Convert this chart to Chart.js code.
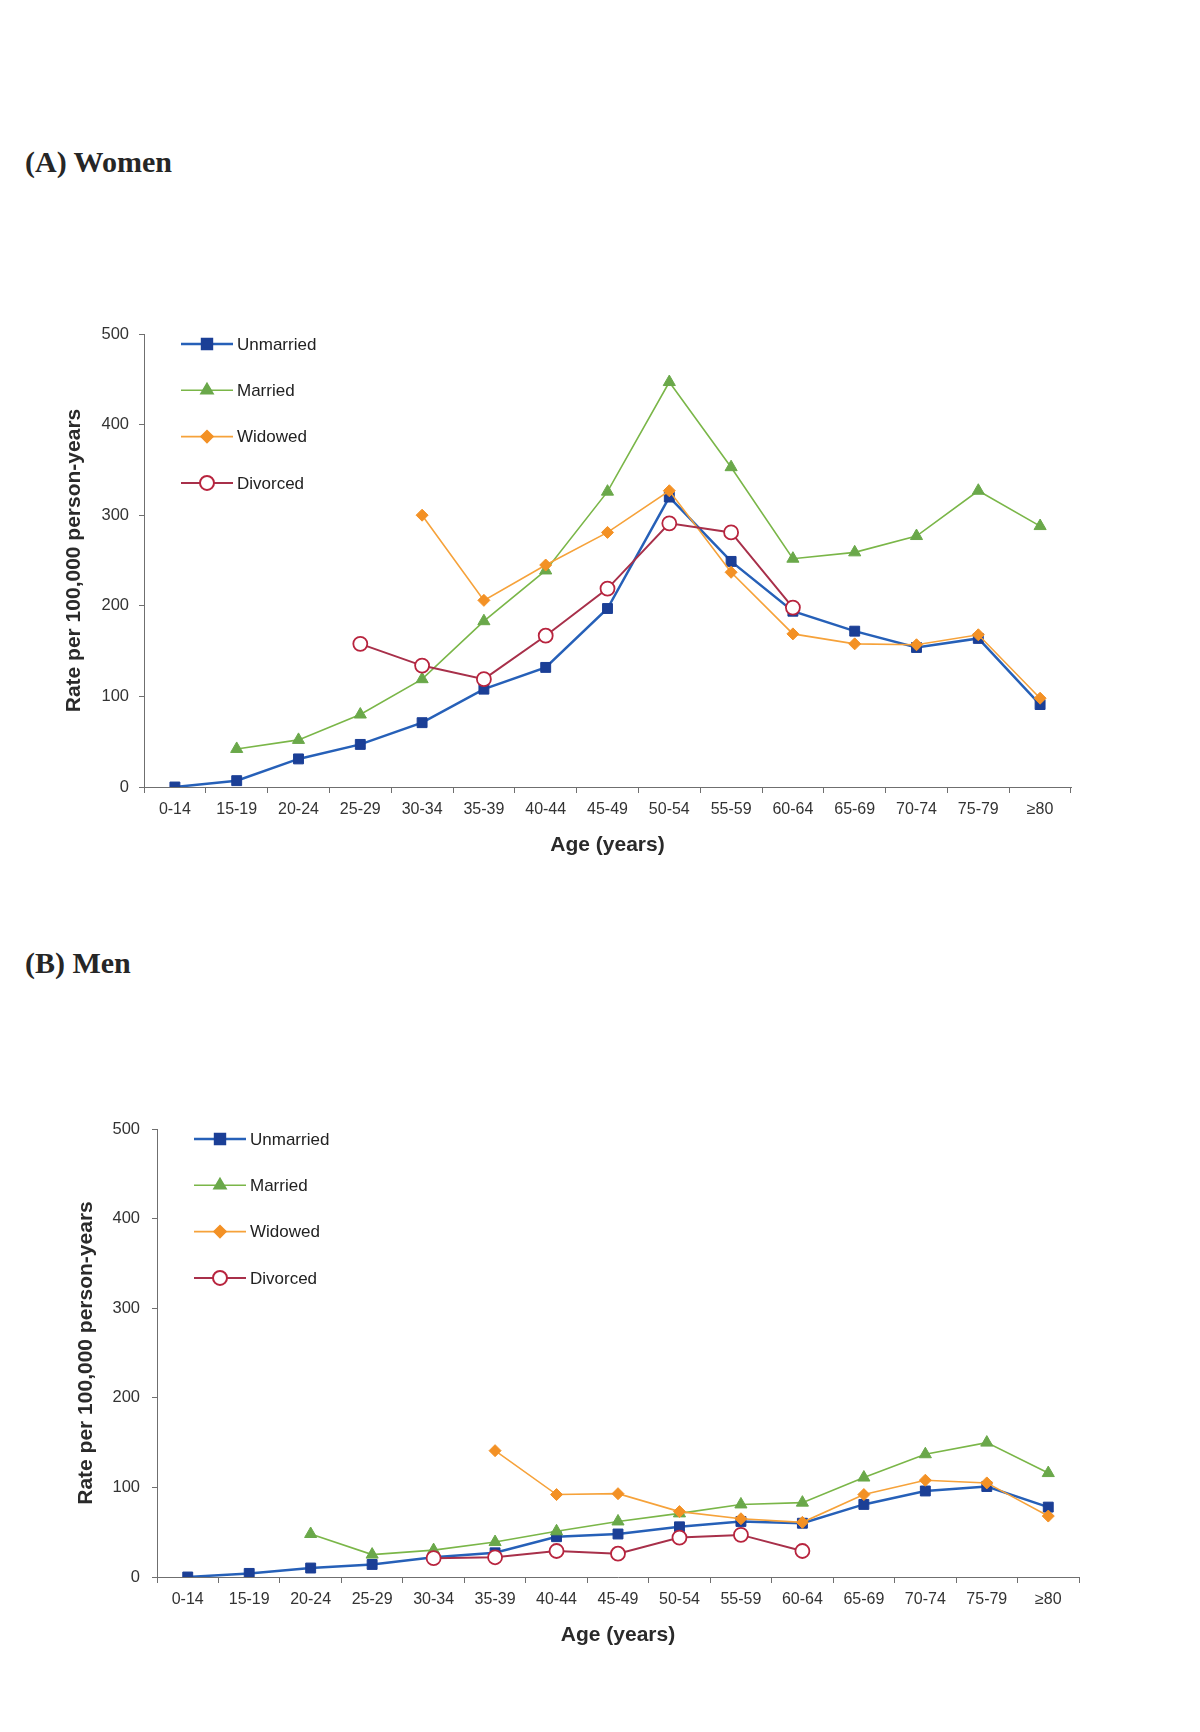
<!DOCTYPE html>
<html>
<head>
<meta charset="utf-8">
<script src="https://cdn.jsdelivr.net/npm/chart.js@4.4.1/dist/chart.umd.min.js"></script>
<style>
  html, body { margin: 0; padding: 0; background: #fff; }
  body { width: 1200px; height: 1732px; position: relative; overflow: hidden; }
  .panel-title {
    position: absolute; left: 25px; margin: 0;
    font: bold 30px "Liberation Serif", "Times New Roman", serif;
    line-height: 30px; color: #262626;
  }
  .box { position: absolute; left: 0; }
</style>
</head>
<body>
<div class="panel-title" style="top:147px">(A) Women</div>
<div class="box" style="top:300px"><canvas id="womenChart" width="1200" height="580"></canvas></div>
<div class="panel-title" style="top:948px">(B) Men</div>
<div class="box" style="top:1090px"><canvas id="menChart" width="1200" height="600"></canvas></div>

<script>
// categories and axis ticks
const ageGroups = ['0-14', '15-19', '20-24', '25-29', '30-34', '35-39', '40-44',
  '45-49', '50-54', '55-59', '60-64', '65-69', '70-74', '75-79', '\u226580'];
const yTicks = [0, 100, 200, 300, 400, 500];

// (A) Women - rate per 100,000 person-years
const womenUnmarried = [0, 7, 31, 47, 71, 108, 132, 197, 320, 249, 194, 172, 154, 164, 91];
const womenMarried   = [null, 42, 52, 80, 119, 183, 239, 326, 447, 353, 252, 259, 277, 327, 288];
const womenWidowed   = [null, null, null, null, 300, 206, 245, 281, 327, 237, 169, 158, 157, 168, 98];
const womenDivorced  = [null, null, null, 158, 134, 119, 167, 219, 291, 281, 198, null, null, null, null];

// (B) Men
const menUnmarried = [0, 4, 10, 14, 22, 27, 45, 48, 56, 62, 60, 81, 96, 101, 78];
const menMarried   = [null, null, 48, 25, 30, 39, 51, 62, 71, 81, 83, 111, 137, 150, 116];
const menWidowed   = [null, null, null, null, null, 141, 92, 93, 73, 65, 61, 92, 108, 105, 68];
const menDivorced  = [null, null, null, null, 21, 22, 29, 26, 44, 47, 29, null, null, null, null];

const FONT = '"Liberation Sans", Arial, sans-serif';
Chart.defaults.font.family = FONT;
Chart.defaults.color = '#333';

// legend drawn as "line + marker + text", like the original
const lineLegend = {
  id: 'lineLegend',
  afterDatasetsDraw(chart, args, opts) {
    const { ctx, chartArea } = chart;
    ctx.save();
    chart.data.datasets.forEach((ds, i) => {
      const y = chartArea.top + opts.y0 + i * opts.dy;
      const x0 = chartArea.left + opts.x0;
      const x1 = chartArea.left + opts.x1;
      ctx.strokeStyle = ds.borderColor;
      ctx.lineWidth = ds.borderWidth;
      ctx.beginPath();
      ctx.moveTo(x0, y);
      ctx.lineTo(x1, y);
      ctx.stroke();
      ctx.fillStyle = ds.pointBackgroundColor;
      ctx.strokeStyle = ds.pointBorderColor;
      Chart.helpers.drawPoint(ctx, {
        pointStyle: ds.pointStyle, radius: ds.pointRadius,
        rotation: 0, borderWidth: ds.pointBorderWidth
      }, (x0 + x1) / 2, y);
      ctx.fillStyle = '#222';
      ctx.font = '17px ' + FONT;
      ctx.textBaseline = 'middle';
      ctx.textAlign = 'left';
      ctx.fillText(ds.label, chartArea.left + opts.textX, y + 1);
    });
    ctx.restore();
  }
};

function seriesSet(unmarried, married, widowed, divorced) {
  return [
    { label: 'Unmarried', data: unmarried, order: 4,
      borderColor: '#2660b8', borderWidth: 2.5,
      pointStyle: 'rect', pointRadius: 7,
      pointBackgroundColor: '#1b3f96', pointBorderColor: '#1b3f96', pointBorderWidth: 1 },
    { label: 'Married', data: married, order: 3,
      borderColor: '#7ab648', borderWidth: 1.6,
      pointStyle: 'triangle', pointRadius: 7,
      pointBackgroundColor: '#6aa84a', pointBorderColor: '#6aa84a', pointBorderWidth: 1 },
    { label: 'Widowed', data: widowed, order: 2,
      borderColor: '#f6a23a', borderWidth: 1.6,
      pointStyle: 'rectRot', pointRadius: 6,
      pointBackgroundColor: '#f39125', pointBorderColor: '#f39125', pointBorderWidth: 1 },
    { label: 'Divorced', data: divorced, order: 1,
      borderColor: '#a8304a', borderWidth: 2,
      pointStyle: 'circle', pointRadius: 7,
      pointBackgroundColor: '#ffffff', pointBorderColor: '#b8243e', pointBorderWidth: 1.8 }
  ];
}

function makeChart(id, datasets, lay) {
  new Chart(document.getElementById(id), {
    type: 'line',
    data: { labels: ageGroups, datasets: datasets },
    options: {
      responsive: false,
      animation: false,
      devicePixelRatio: 1,
      layout: { padding: { top: lay.top, right: lay.right, bottom: 0, left: 0 } },
      elements: { line: { tension: 0, fill: false } },
      plugins: {
        legend: { display: false },
        tooltip: { enabled: false },
        lineLegend: { x0: 37, x1: 89, textX: 93, y0: 10, dy: 46.3 }
      },
      scales: {
        x: {
          type: 'category',
          offset: true,
          grid: { offset: true, drawOnChartArea: false, drawTicks: true, tickLength: 6, color: '#6f6f6f' },
          border: { color: '#6f6f6f', width: 1 },
          ticks: { color: '#333', font: { size: 16 }, padding: 7, maxRotation: 0, autoSkip: false },
          title: { display: true, text: 'Age (years)', color: '#2a2a2a',
            font: { size: 21, weight: 'bold' }, padding: { top: 0, bottom: lay.xTitlePad } },
          afterFit: (s) => { s.height = lay.xHeight; }
        },
        y: {
          min: 0, max: 500,
          afterBuildTicks: (s) => { s.ticks = yTicks.map(v => ({ value: v })); },
          grid: { drawOnChartArea: false, drawTicks: true, tickLength: 5, color: '#6f6f6f' },
          border: { color: '#6f6f6f', width: 1 },
          ticks: { color: '#333', font: { size: 16.5 }, padding: lay.yTickPad },
          title: { display: true, text: 'Rate per 100,000 person-years', color: '#2a2a2a',
            font: { size: 21, weight: 'bold' }, padding: { top: lay.yTitlePad, bottom: 0 } },
          afterFit: (s) => { s.width = lay.yWidth; }
        }
      }
    },
    plugins: [lineLegend]
  });
}

makeChart('womenChart', seriesSet(womenUnmarried, womenMarried, womenWidowed, womenDivorced),
  { top: 34, right: 129, xHeight: 93, xTitlePad: 22, yWidth: 144, yTickPad: 10, yTitlePad: 62 });

makeChart('menChart', seriesSet(menUnmarried, menMarried, menWidowed, menDivorced),
  { top: 39, right: 121, xHeight: 113, xTitlePad: 42, yWidth: 157, yTickPad: 12, yTitlePad: 74 });
</script>
</body>
</html>
